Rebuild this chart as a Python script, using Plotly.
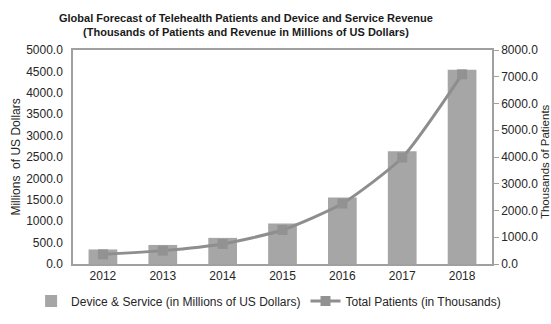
import plotly.graph_objects as go

years = ["2012", "2013", "2014", "2015", "2016", "2017", "2018"]
revenue = [340, 445, 610, 945, 1555, 2635, 4540]
patients = [360, 500, 750, 1270, 2260, 3980, 7090]

left_ticks = [0, 500, 1000, 1500, 2000, 2500, 3000, 3500, 4000, 4500, 5000]
right_ticks = [0, 1000, 2000, 3000, 4000, 5000, 6000, 7000, 8000]

font = "Liberation Sans, Arial, sans-serif"
axis_col = "#a0a0a0"
text_col = "#262626"

fig = go.Figure()
fig.add_trace(go.Bar(
    x=years, y=revenue, name="Device & Service (in Millions of US Dollars)",
    marker=dict(color="#a6a6a6", line=dict(width=0)), yaxis="y",
))
fig.add_trace(go.Scatter(
    x=years, y=patients, name="Total Patients (in Thousands)",
    mode="lines+markers", yaxis="y2",
    line=dict(color="#8e8e8e", width=3, shape="spline", smoothing=0.6),
    marker=dict(symbol="square", size=10, color="#929292"),
))

fig.update_layout(
    width=551, height=324,
    margin=dict(l=73, r=59, t=50, b=60, autoexpand=False),
    paper_bgcolor="white", plot_bgcolor="white",
    font=dict(family=font, size=12, color=text_col),
    bargap=0.52,
    showlegend=True,
    xaxis=dict(
        type="category", showline=True, linecolor=axis_col, linewidth=1.5,
        mirror=True, ticks="", showgrid=False,
        tickfont=dict(size=12, color=text_col),
    ),
    yaxis=dict(
        range=[0, 5000], tickvals=left_ticks, tickformat=".1f",
        showline=True, linecolor=axis_col, linewidth=1.5, showgrid=False,
        ticks="", zeroline=False, tickfont=dict(size=12, color=text_col),
        ticklabelstandoff=6,
    ),
    yaxis2=dict(
        range=[0, 8000], tickvals=right_ticks, tickformat=".1f",
        overlaying="y", side="right", showline=True, linecolor=axis_col,
        linewidth=1.5, showgrid=False, ticks="outside", ticklen=5,
        tickcolor=axis_col, zeroline=False,
        tickfont=dict(size=12, color=text_col),
    ),
    legend=dict(
        orientation="h", x=-0.1, xanchor="left", y=-0.105, yanchor="top",
        font=dict(size=12, color=text_col),
        bgcolor="rgba(0,0,0,0)", itemwidth=30, tracegroupgap=0,
    ),
    annotations=[
        dict(text="<b>Global Forecast of Telehealth Patients and Device and Service Revenue<br>(Thousands of Patients and Revenue in Millions of US Dollars)</b>",
             x=0.413, y=1.119, xref="paper", yref="paper", xanchor="center",
             yanchor="middle", showarrow=False,
             font=dict(family=font, size=11, color="#1a1a1a")),
        dict(text="Millions  of US Dollars", textangle=-90, x=-0.137, y=0.5,
             xref="paper", yref="paper", xanchor="center", yanchor="middle",
             showarrow=False, font=dict(size=12, color=text_col)),
        dict(text="Thousands of Patients", textangle=-90, x=1.126, y=0.48,
             xref="paper", yref="paper", xanchor="center", yanchor="middle",
             showarrow=False, font=dict(size=11.5, color=text_col)),
    ],
)

fig.write_html("out.html")
